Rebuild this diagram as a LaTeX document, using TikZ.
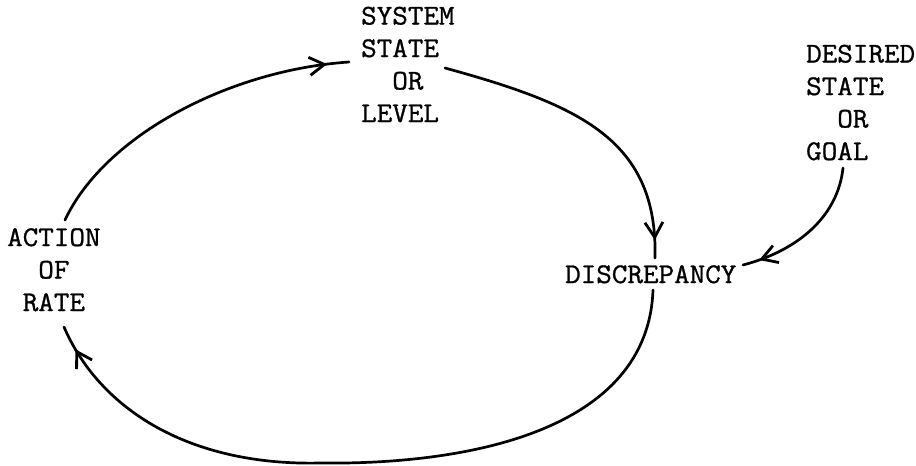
\documentclass[tikz,border=0pt]{standalone}
\usepackage{fontspec}
\setmonofont[FakeStretch=1.06,FakeBold=1]{Latin Modern Mono}
\usetikzlibrary{arrows.meta,decorations.markings}
\begin{document}
\begin{tikzpicture}[x=1pt,y=-1pt,
  txt/.style={font=\ttfamily\fontsize{28.5}{32.5}\selectfont, align=left,
    inner sep=0pt, anchor=base west},
  flow/.style={line width=2.7pt, line cap=round},
  headat/.style={postaction={decorate}, decoration={markings,
    mark=at position #1 with {\arrow{Straight Barb[length=15pt,width=18pt,line width=2.8pt]}}}}
]
\useasboundingbox (0,0) rectangle (916,466);

% labels (typewriter text, last baseline at the given point)
\node[txt] (sys) at (361,122) {SYSTEM\\STATE\\\phantom{XX}OR\\LEVEL};
\node[txt] (des) at (806,160) {DESIRED\\STATE\\\phantom{XX}OR\\GOAL};
\node[txt] (act) at (7,311)   {ACTION\\\phantom{XX}OF\\\phantom{X}RATE};
\node[txt] (dis) at (565,283) {DISCREPANCY};

% action -> system state
\draw[flow, headat=-22pt]
  ([shift={(58,-91)}]act.base west)
  .. controls (105,135) and (230,70) ..
  ([shift={(-12,-60)}]sys.base west);

% system state -> discrepancy
\draw[flow, headat=-18pt]
  ([shift={(84,-54)}]sys.base west)
  .. controls (580,105) and (658,140) ..
  ([shift={(90,-25)}]dis.base west);

% goal -> discrepancy
\draw[flow, headat=-17pt]
  ([shift={(37,8)}]des.base west)
  .. controls (838,215) and (800,250) ..
  ([shift={(178,-18)}]dis.base west);

% discrepancy -> action (long lower arc)
\draw[flow, headat=-25pt]
  ([shift={(88,7)}]dis.base west)
  .. controls (648,430) and (470,465) .. (320,463)
  .. controls (190,466) and (100,410) ..
  ([shift={(57,16)}]act.base west);
\end{tikzpicture}
\end{document}
